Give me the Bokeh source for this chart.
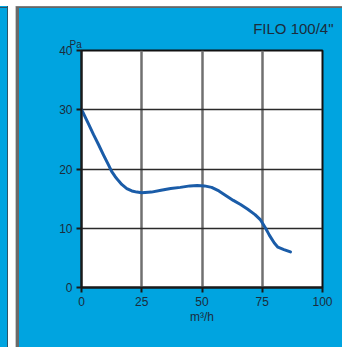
from bokeh.plotting import figure
from bokeh.models import Range1d, FixedTicker, Title
from bokeh.embed import file_html
from bokeh.resources import INLINE

# Data
flow = [0, 0.8, 2.9, 5.0, 7.1, 9.1, 11.2, 12.5, 14, 15.4, 16.7, 18.8, 20.9, 23, 25, 29, 33, 37, 41, 45, 48, 51,
        54, 57, 60, 63, 66, 69, 72, 74.3, 76.4, 78, 80, 81.5, 84, 86.7]
pressure = [30, 29.4, 27.6, 25.8, 24.1, 22.4, 20.7, 19.6, 18.7, 18.0, 17.4, 16.7, 16.3, 16.1, 16.0, 16.1, 16.4, 16.7, 16.9, 17.15, 17.2, 17.15,
            16.9, 16.3, 15.5, 14.7, 14.0, 13.2, 12.3, 11.4, 10, 8.8, 7.5, 6.8, 6.4, 6.0]
x_ticks = [0, 25, 50, 75, 100]
y_ticks = [0, 10, 20, 30, 40]
title_text = 'FILO 100/4"'
x_label = "m\u00b3/h"
y_label = "Pa"

BLUE = "#00A4E0"
TEXT = "#1c2c3c"
FONT = "Liberation Sans"

bg = ", ".join([
    "linear-gradient(#ffffff, #ffffff) 0 0 / 100% 6px no-repeat",
    "linear-gradient(#8c8c8c, #5a5a5a) 16px 6px / 100% 2px no-repeat",
    "linear-gradient(#2b5568, #2b5568) 0 7px / 8px 1px no-repeat",
    "linear-gradient(to right, %s 0 7px, #2b5568 7px 8px, #ffffff 8px 15px, #c8c8c8 15px 16px, #6a6a6a 16px 19px, %s 19px 100%%)" % (BLUE, BLUE),
])

p = figure(width=342, height=347, output_backend="svg", toolbar_location=None,
           x_range=Range1d(0, 100), y_range=Range1d(0, 40),
           min_border_left=81, min_border_right=20, min_border_top=50, min_border_bottom=60,
           border_fill_color=None, background_fill_color="white",
           styles={"background": bg})

p.outline_line_color = "#111111"
p.outline_line_width = 2

p.xaxis.ticker = FixedTicker(ticks=x_ticks)
p.yaxis.ticker = FixedTicker(ticks=y_ticks)
for ax in (p.xaxis, p.yaxis):
    ax.axis_line_color = "#1a1a1a"
    ax.axis_line_width = 2
    ax.major_tick_line_color = "#1a1a1a"
    ax.major_tick_line_width = 2
    ax.major_tick_out = 5
    ax.major_tick_in = 0
    ax.minor_tick_line_color = None
    ax.major_label_text_font = FONT
    ax.major_label_text_font_size = "12px"
    ax.major_label_text_color = TEXT
    ax.major_label_standoff = 4

p.xaxis.axis_label = x_label
p.xaxis.axis_label_text_font = FONT
p.xaxis.axis_label_text_font_size = "12px"
p.xaxis.axis_label_text_font_style = "normal"
p.xaxis.axis_label_text_color = TEXT
p.xaxis.axis_label_standoff = 1

p.xgrid.ticker = FixedTicker(ticks=x_ticks)
p.ygrid.ticker = FixedTicker(ticks=y_ticks)
p.xgrid.grid_line_color = "#707070"
p.xgrid.grid_line_width = 2.5
p.ygrid.grid_line_color = "#2a2a2a"
p.ygrid.grid_line_width = 1.5

p.title.text = title_text
p.title.align = "right"
p.title.offset = -11
p.title.text_font = FONT
p.title.text_font_size = "15px"
p.title.text_font_style = "normal"
p.title.text_color = TEXT
p.title.standoff = 0

pa = Title(text=y_label, align="left", offset=-12, standoff=1,
           text_font=FONT, text_font_size="10px", text_font_style="normal", text_color=TEXT)
p.add_layout(pa, "above")

p.line(flow, pressure, line_color="#1a5ca8", line_width=3, line_join="round", line_cap="round")

open("out.html", "w").write(file_html(p, INLINE))
